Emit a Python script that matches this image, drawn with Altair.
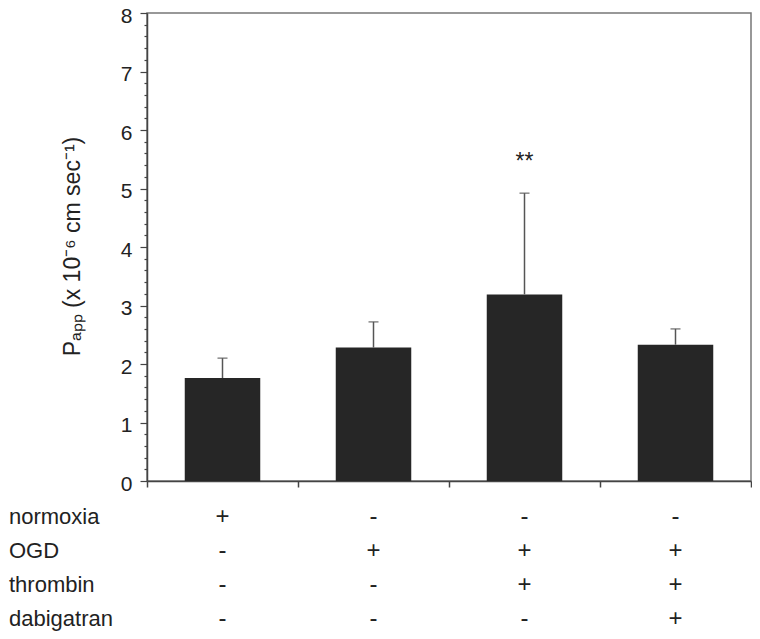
import altair as alt
import pandas as pd

# ---- data ----
groups = ["G1", "G2", "G3", "G4"]
means = [1.76, 2.28, 3.19, 2.33]
errors = [0.34, 0.44, 1.73, 0.27]
factors = ["normoxia", "OGD", "thrombin", "dabigatran"]
normoxia = ["+", "-", "-", "-"]
ogd = ["-", "+", "+", "+"]
thrombin = ["-", "-", "+", "+"]
dabigatran = ["-", "-", "-", "+"]
star_group = ["G3"]
star_y = [5.45]
star_text = ["**"]
y_tick_values = [0, 0.2, 0.4, 0.6, 0.8, 1, 1.2, 1.4, 1.6, 1.8, 2, 2.2, 2.4, 2.6, 2.8,
                 3, 3.2, 3.4, 3.6, 3.8, 4, 4.2, 4.4, 4.6, 4.8, 5, 5.2, 5.4, 5.6, 5.8,
                 6, 6.2, 6.4, 6.6, 6.8, 7, 7.2, 7.4, 7.6, 7.8, 8]

FONT = "Liberation Sans"
TXT = "#222222"

bars_df = pd.DataFrame({"group": groups, "mean": means,
                        "top": [m + e for m, e in zip(means, errors)]})
star_df = pd.DataFrame({"group": star_group, "y": star_y, "t": star_text})
sign_rows = []
for f, vals in zip(factors, [normoxia, ogd, thrombin, dabigatran]):
    for g, s in zip(groups, vals):
        sign_rows.append({"factor": f, "group": g, "sign": s})
signs_df = pd.DataFrame(sign_rows)
labels_df = pd.DataFrame({"factor": factors})

x_enc = alt.X("group:N",
              scale=alt.Scale(domain=groups, paddingInner=0, paddingOuter=0),
              axis=alt.Axis(labels=False, title=None, tickBand="extent",
                            tickSize=6, tickColor="#444", tickWidth=1.5,
                            domainColor="#444", domainWidth=1.5))

y_scale = alt.Scale(domain=[0, 8], nice=False)
y_axis = alt.Axis(values=y_tick_values, format=".0f",
                  labelExpr="datum.value % 1 === 0 ? datum.label : ''",
                  tickSize={"condition": {"test": "datum.value % 1 === 0", "value": 7}, "value": 3},
                  tickColor="#444", tickWidth=1.2,
                  domainColor="#444", domainWidth=1.5,
                  labelFont=FONT, labelFontSize=21, labelColor=TXT, labelPadding=8,
                  labelOffset=3,
                  grid=False,
                  title="Pₐₚₚ (x 10⁻⁶ cm sec⁻¹)",
                  titleFont=FONT, titleFontSize=23, titleFontWeight="normal",
                  titleColor=TXT, titleAngle=270, titleX=-68, titleY=233,
                  titleAlign="center", titleBaseline="alphabetic")

bars = alt.Chart(bars_df).mark_bar(color="#262626", width=alt.RelativeBandSize(0.5)).encode(
    x=x_enc, y=alt.Y("mean:Q", scale=y_scale, axis=y_axis))
rules = alt.Chart(bars_df).mark_rule(color="#555555", strokeWidth=1.5).encode(
    x=x_enc, y=alt.Y("mean:Q", scale=y_scale, axis=y_axis), y2="top:Q")
caps = alt.Chart(bars_df).mark_tick(color="#555555", thickness=1.5, size=10).encode(
    x=x_enc, y=alt.Y("top:Q", scale=y_scale, axis=y_axis))
stars = alt.Chart(star_df).mark_text(font=FONT, fontSize=23, color=TXT, baseline="middle").encode(
    x=x_enc, y=alt.Y("y:Q", scale=y_scale, axis=y_axis), text="t:N")

plot = alt.layer(bars, rules, caps, stars)

row_scale = alt.Scale(type="point", domain=factors, range=[511, 613], padding=0)
sign_text = alt.Chart(signs_df).mark_text(font=FONT, fontSize=24, color=TXT,
                                          baseline="alphabetic").encode(
    x=x_enc, y=alt.Y("factor:N", scale=row_scale, axis=None), text="sign:N")
row_labels = alt.Chart(labels_df).mark_text(font=FONT, fontSize=22, color=TXT,
                                            align="left", baseline="alphabetic").encode(
    x=alt.value(-138), y=alt.Y("factor:N", scale=row_scale, axis=None), text="factor:N")

chart = alt.layer(plot, sign_text, row_labels).resolve_scale(y="independent").properties(
    width=604, height=468,
    autosize=alt.AutoSizeParams(type="none"),
    padding={"left": 139, "top": 5, "right": 1, "bottom": 150},
).configure_view(stroke="#777777", strokeWidth=1.5)

chart.save("out.html", embed_options={"renderer": "svg", "actions": False})
